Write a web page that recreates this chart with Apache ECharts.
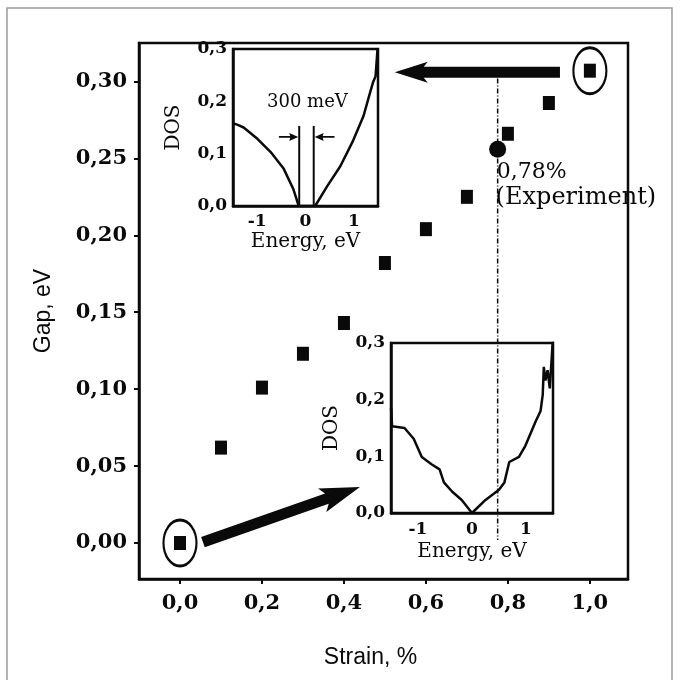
<!DOCTYPE html>
<html>
<head>
<meta charset="utf-8">
<script src="https://cdn.jsdelivr.net/npm/echarts@6/dist/echarts.min.js"></script>
<style>
  html, body { margin: 0; padding: 0; background: #fff; }
  #chart { width: 686px; height: 680px; }
</style>
</head>
<body>
<div id="chart"></div>
<script>
// main panel: gap vs strain
var strain = [0.0, 0.1, 0.2, 0.3, 0.4, 0.5, 0.6, 0.7, 0.8, 0.9, 1.0];
var gap = [0.000, 0.062, 0.101, 0.123, 0.143, 0.182, 0.204, 0.225, 0.266, 0.286, 0.307];
var circledIdx = [0, 10];
var expStrain = 0.775;
var expGap = 0.256;
var expLine = [0.302, 0.002];
var xTicks = [0, 0.2, 0.4, 0.6, 0.8, 1.0];
var yTicks = [0, 0.05, 0.10, 0.15, 0.20, 0.25, 0.30];

// upper inset: DOS, 1% strain
var dosTopE = [-1.5, -1.4, -1.28, -0.99, -0.72, -0.45, -0.25, -0.14, 0.2, 0.45, 0.72, 0.97, 1.2, 1.34, 1.40, 1.45, 1.49];
var dosTopV = [0.158, 0.155, 0.150, 0.128, 0.103, 0.071, 0.032, 0.0, 0.0, 0.038, 0.076, 0.122, 0.172, 0.218, 0.237, 0.248, 0.30];
var gapEdges = [-0.13, 0.17];
var gapLineTop = 0.153;

// lower inset: DOS, no strain
var dosBotE = [-1.5, -1.48, -1.25, -1.08, -0.93, -0.75, -0.6, -0.52, -0.37, -0.19, 0, 0.25, 0.5, 0.6, 0.69, 0.87, 0.99, 1.18, 1.27, 1.31, 1.33, 1.36, 1.40, 1.44, 1.5];
var dosBotV = [0.186, 0.153, 0.150, 0.131, 0.099, 0.086, 0.077, 0.054, 0.038, 0.023, 0.0, 0.023, 0.041, 0.054, 0.090, 0.099, 0.119, 0.162, 0.180, 0.209, 0.258, 0.234, 0.252, 0.220, 0.31];

var insetXTicks = [-1, 0, 1];
var insetYTicks = [0, 0.1, 0.2, 0.3];

var ink = '#0a0a0a';
var serif = 'DejaVu Serif';
var sans = 'Liberation Sans';

function zip(a, b) {
  return a.map(function (v, i) { return [v, b[i]]; });
}
function comma(d) {
  return function (v) { return v.toFixed(d).replace('.', ','); };
}

var chart = echarts.init(document.getElementById('chart'));

function mainAxisLabel(ticks, d, margin) {
  return { customValues: ticks, formatter: comma(d), margin: margin, color: ink,
    fontFamily: serif, fontSize: 21, fontWeight: 'bold' };
}
function insetAxisLabel(ticks, d, margin) {
  return { customValues: ticks, formatter: function (v) { return d ? comma(d)(v) : String(v); },
    margin: margin, color: ink, fontFamily: serif, fontSize: 17, fontWeight: 'bold' };
}

var option = {
  animation: false,
  backgroundColor: '#fff',
  grid: [
    { left: 139, top: 43, width: 489, height: 536, show: true, borderColor: ink, borderWidth: 2.5 },
    { left: 233, top: 49, width: 145, height: 157, show: true, borderColor: ink, borderWidth: 2.5 },
    { left: 391, top: 343, width: 162, height: 170, show: true, borderColor: ink, borderWidth: 2.5 }
  ],
  xAxis: [
    {
      gridIndex: 0, type: 'value', min: -0.1, max: 1.093,
      axisLine: { show: true, onZero: false, lineStyle: { color: ink, width: 2.5 } },
      axisTick: { show: true, customValues: xTicks, length: 5, lineStyle: { color: ink, width: 2 } },
      axisLabel: mainAxisLabel(xTicks, 1, 14),
      splitLine: { show: false },
      name: 'Strain, %', nameLocation: 'middle', nameGap: 67,
      nameTextStyle: { fontFamily: sans, fontSize: 23, color: ink, padding: [0, 26, 0, 0] }
    },
    {
      gridIndex: 1, type: 'value', min: -1.5, max: 1.5,
      axisLine: { show: true, onZero: false, lineStyle: { color: ink, width: 2.5 } },
      axisTick: { show: false },
      axisLabel: insetAxisLabel(insetXTicks, 0, 7),
      splitLine: { show: false },
      name: 'Energy, eV', nameLocation: 'middle', nameGap: 26,
      nameTextStyle: { fontFamily: serif, fontSize: 20, color: ink }
    },
    {
      gridIndex: 2, type: 'value', min: -1.5, max: 1.5,
      axisLine: { show: true, onZero: false, lineStyle: { color: ink, width: 2.5 } },
      axisTick: { show: false },
      axisLabel: insetAxisLabel(insetXTicks, 0, 8),
      splitLine: { show: false },
      name: 'Energy, eV', nameLocation: 'middle', nameGap: 29,
      nameTextStyle: { fontFamily: serif, fontSize: 20, color: ink }
    }
  ],
  yAxis: [
    {
      gridIndex: 0, type: 'value', min: -0.0234, max: 0.325,
      axisLine: { show: true, onZero: false, lineStyle: { color: ink, width: 2.5 } },
      axisTick: { show: true, customValues: yTicks, length: 5, lineStyle: { color: ink, width: 2 } },
      axisLabel: mainAxisLabel(yTicks, 2, 12),
      splitLine: { show: false },
      name: 'Gap, eV', nameLocation: 'middle', nameRotate: 90, nameGap: 84,
      nameTextStyle: { fontFamily: sans, fontSize: 23, color: ink }
    },
    {
      gridIndex: 1, type: 'value', min: 0, max: 0.3,
      axisLine: { show: true, onZero: false, lineStyle: { color: ink, width: 2.5 } },
      axisTick: { show: false },
      axisLabel: insetAxisLabel(insetYTicks, 1, 6),
      splitLine: { show: false },
      name: 'DOS', nameLocation: 'middle', nameRotate: 90, nameGap: 49,
      nameTextStyle: { fontFamily: serif, fontSize: 20, color: ink }
    },
    {
      gridIndex: 2, type: 'value', min: 0, max: 0.3,
      axisLine: { show: true, onZero: false, lineStyle: { color: ink, width: 2.5 } },
      axisTick: { show: false },
      axisLabel: insetAxisLabel(insetYTicks, 1, 6),
      splitLine: { show: false },
      name: 'DOS', nameLocation: 'middle', nameRotate: 90, nameGap: 49,
      nameTextStyle: { fontFamily: serif, fontSize: 20, color: ink }
    }
  ],
  series: [
    {
      // experiment marker line (dash-dot)
      type: 'line', xAxisIndex: 0, yAxisIndex: 0, silent: true,
      data: [[expStrain, expLine[0]], [expStrain, expLine[1]]],
      symbol: 'none', z: 5,
      lineStyle: { color: ink, width: 1.5, type: [5, 2, 1, 2] }
    },
    {
      type: 'scatter', xAxisIndex: 0, yAxisIndex: 0, silent: true,
      data: zip(strain, gap),
      symbol: 'rect', symbolSize: [12, 14],
      itemStyle: { color: ink, opacity: 1 }
    },
    {
      type: 'scatter', xAxisIndex: 0, yAxisIndex: 0, silent: true,
      data: circledIdx.map(function (i) { return [strain[i], gap[i]]; }),
      symbol: 'circle', symbolSize: [33, 46],
      itemStyle: { color: 'rgba(0,0,0,0)', borderColor: ink, borderWidth: 2.5, opacity: 1 }
    },
    {
      type: 'scatter', xAxisIndex: 0, yAxisIndex: 0, silent: true,
      data: [[expStrain, expGap]],
      symbol: 'circle', symbolSize: 17,
      itemStyle: { color: ink, opacity: 1 }
    },
    {
      type: 'line', xAxisIndex: 1, yAxisIndex: 1, silent: true,
      data: zip(dosTopE, dosTopV), symbol: 'none',
      lineStyle: { color: ink, width: 2.5 }
    },
    {
      type: 'line', xAxisIndex: 1, yAxisIndex: 1, silent: true,
      data: [[gapEdges[0], 0], [gapEdges[0], gapLineTop]], symbol: 'none',
      lineStyle: { color: ink, width: 2 }
    },
    {
      type: 'line', xAxisIndex: 1, yAxisIndex: 1, silent: true,
      data: [[gapEdges[1], 0], [gapEdges[1], gapLineTop]], symbol: 'none',
      lineStyle: { color: ink, width: 2 }
    },
    {
      type: 'line', xAxisIndex: 2, yAxisIndex: 2, silent: true,
      data: zip(dosBotE, dosBotV), symbol: 'none',
      lineStyle: { color: ink, width: 2.5 }
    }
  ]
};
chart.setOption(option);

// annotation arrows and texts, placed through the axes
function px(g, p) { return chart.convertToPixel({ gridIndex: g }, p); }
function arrow(p0, p1, shaft, headW, headL, notch) {
  var dx = p1[0] - p0[0], dy = p1[1] - p0[1];
  var len = Math.sqrt(dx * dx + dy * dy);
  var ux = dx / len, uy = dy / len, nx = -uy, ny = ux;
  var bx = p1[0] - ux * headL, by = p1[1] - uy * headL;
  var cx = bx + ux * notch, cy = by + uy * notch;
  return {
    type: 'polygon', silent: true, z: 10,
    shape: { points: [
      [p0[0] + nx * shaft / 2, p0[1] + ny * shaft / 2],
      [cx + nx * shaft / 2, cy + ny * shaft / 2],
      [bx + nx * headW / 2, by + ny * headW / 2],
      [p1[0], p1[1]],
      [bx - nx * headW / 2, by - ny * headW / 2],
      [cx - nx * shaft / 2, cy - ny * shaft / 2],
      [p0[0] - nx * shaft / 2, p0[1] - ny * shaft / 2]
    ] },
    style: { fill: ink }
  };
}
function label(p, text, size, align) {
  return {
    type: 'text', silent: true, z: 10, x: p[0], y: p[1],
    style: { text: text, fill: ink, font: size + 'px "' + serif + '"',
      textAlign: align, textVerticalAlign: 'middle' }
  };
}

var graphics = [
  { type: 'rect', silent: true, shape: { x: 7, y: 8, width: 665, height: 700 },
    style: { fill: 'none', stroke: '#9a9a9a', lineWidth: 1.5 } },
  arrow(px(0, [0.927, 0.306]), px(0, [0.524, 0.306]), 11, 21, 33, 4),
  arrow(px(0, [0.056, 0.0006]), px(0, [0.439, 0.0364]), 11, 25, 40, 5),
  arrow(px(1, [-0.55, 0.132]), px(1, [gapEdges[0] - 0.02, 0.132]), 1.8, 8, 9, 1),
  arrow(px(1, [0.6, 0.132]), px(1, [gapEdges[1] + 0.02, 0.132]), 1.8, 8, 9, 1),
  label(px(1, [0.04, 0.198]), '300 meV', 18, 'center'),
  label(px(0, [0.773, 0.241]), '0,78%', 22, 'left'),
  label(px(0, [0.77, 0.2247]), '(Experiment)', 24, 'left')
];
chart.setOption({ graphic: graphics });
</script>
</body>
</html>
